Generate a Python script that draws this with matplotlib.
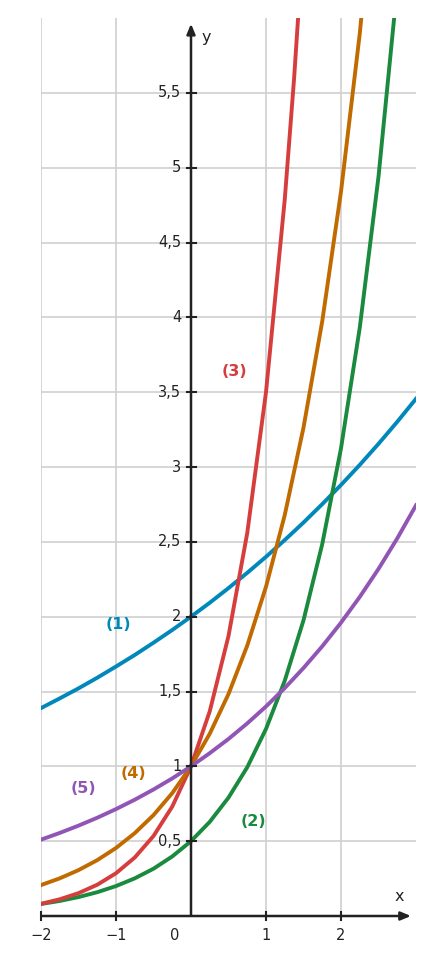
import numpy as np
import matplotlib.pyplot as plt

xs = np.arange(-2, 3.001, 0.25)
blue_y = [1.389, 1.454, 1.521, 1.592, 1.667, 1.744, 1.826, 1.911, 2.0, 2.093, 2.191, 2.293, 2.4,
          2.512, 2.629, 2.752, 2.88, 3.014, 3.155, 3.302, 3.456]
green_y = [0.08, 0.1006, 0.1265, 0.159, 0.2, 0.2515, 0.316, 0.398, 0.5, 0.629, 0.791, 0.994, 1.25,
           1.572, 1.976, 2.485, 3.125, 3.93, 4.94, 6.21, 7.8]
red_x = [-2, -1.75, -1.5, -1.25, -1, -0.75, -0.5, -0.25, 0, 0.25, 0.5, 0.75, 1, 1.25, 1.375, 1.5]
red_y = [0.0816, 0.1117, 0.1527, 0.2089, 0.2857, 0.3908, 0.5345, 0.7311, 1.0, 1.368, 1.871, 2.559,
         3.5, 4.787, 5.599, 6.548]
orange_x = list(np.arange(-2, 2.501, 0.25))
orange_y = [0.2066, 0.2516, 0.3065, 0.3732, 0.4545, 0.5536, 0.6742, 0.8211, 1.0, 1.218, 1.483,
            1.807, 2.2, 2.679, 3.263, 3.974, 4.84, 5.895, 7.18]
purple_y = [0.5102, 0.555, 0.6037, 0.6566, 0.7143, 0.777, 0.8452, 0.9193, 1.0, 1.088, 1.183, 1.287,
            1.4, 1.523, 1.657, 1.802, 1.96, 2.132, 2.319, 2.523, 2.744]

x_ticks = [-2, -1, 1, 2]
y_ticks = [0.5, 1, 1.5, 2, 2.5, 3, 3.5, 4, 4.5, 5, 5.5]

BLUE, GREEN, RED, ORANGE, PURPLE = "#0088bb", "#1a8a3e", "#d63e3e", "#c06a00", "#9155b5"

fig = plt.figure(figsize=(4.34, 9.65), dpi=100)
ax = fig.add_axes([41 / 434, 49 / 965, 375 / 434, 898 / 965])
ax.set_xlim(-2, 3)
ax.set_ylim(0, 6)
for s in ax.spines.values():
    s.set_visible(False)
ax.set_xticks([])
ax.set_yticks([])

for gx in [-2, -1, 1, 2]:
    ax.axvline(gx, color="#d0d0d0", lw=1.2, zorder=0)
for gy in y_ticks:
    ax.axhline(gy, color="#d0d0d0", lw=1.2, zorder=0)

lw = 2.8
ax.plot(xs, blue_y, color=BLUE, lw=lw, zorder=3)
ax.plot(xs, green_y, color=GREEN, lw=lw, zorder=3)
ax.plot(red_x, red_y, color=RED, lw=lw, zorder=3)
ax.plot(orange_x, orange_y, color=ORANGE, lw=lw, zorder=3)
ax.plot(xs, purple_y, color=PURPLE, lw=lw, zorder=3)

ak = dict(arrowstyle="-|>,head_length=0.6,head_width=0.25", color="#222222", lw=1.8)
ax.annotate("", xy=(2.97, 0), xytext=(-2.02, 0), arrowprops=ak, annotation_clip=False, zorder=4)
ax.annotate("", xy=(0, 5.98), xytext=(0, -0.01), arrowprops=ak, annotation_clip=False, zorder=4)

for t in x_ticks:
    ax.plot([t, t], [-0.03, 0.03], color="#222222", lw=1.5, clip_on=False, zorder=4)
    ax.text(t, -0.13, "\u2212%d" % -t if t < 0 else str(t), ha="center", va="center",
            fontsize=10.5, color="#222222")
ax.text(-0.22, -0.13, "0", ha="center", va="center", fontsize=10.5, color="#222222")
for t in y_ticks:
    ax.plot([-0.06, 0.06], [t, t], color="#222222", lw=1.5, zorder=4)
    lab = ("%g" % t).replace(".", ",")
    ax.text(-0.13, t, lab, ha="right", va="center", fontsize=10.5, color="#222222")

ax.text(2.78, 0.13, "x", fontsize=11.5, color="#222222", ha="center", va="center")
ax.text(0.2, 5.87, "y", fontsize=11.5, color="#222222", ha="center", va="center")

lk = dict(fontsize=11.5, fontweight="bold", ha="center", va="center")
ax.text(-0.97, 1.95, "(1)", color=BLUE, **lk)
ax.text(0.83, 0.63, "(2)", color=GREEN, **lk)
ax.text(0.58, 3.64, "(3)", color=RED, **lk)
ax.text(-0.77, 0.95, "(4)", color=ORANGE, **lk)
ax.text(-1.44, 0.85, "(5)", color=PURPLE, **lk)

fig.savefig("out.png", dpi=100)
